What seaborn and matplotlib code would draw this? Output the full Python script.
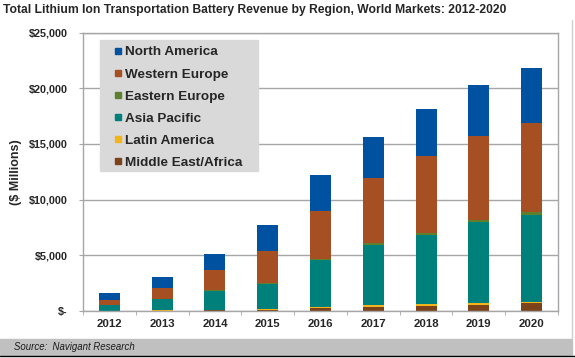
import pandas as pd
import numpy as np
import matplotlib
matplotlib.use("Agg")
import matplotlib.pyplot as plt
import seaborn as sns
from matplotlib.lines import Line2D
from matplotlib.ticker import FuncFormatter

# revenue, $ millions
years = ["2012", "2013", "2014", "2015", "2016", "2017", "2018", "2019", "2020"]
middle_east_africa = [20, 40, 80, 120, 250, 395, 448, 538, 690]
latin_america = [10, 20, 40, 70, 100, 116, 150, 180, 153]
asia_pacific = [480, 1000, 1700, 2250, 4200, 5409, 6190, 7238, 7740]
eastern_europe = [20, 30, 40, 60, 120, 180, 206, 242, 332]
western_europe = [450, 990, 1820, 2870, 4270, 5865, 6905, 7534, 7946]
north_america = [600, 960, 1460, 2360, 3300, 3641, 4216, 4574, 4969]

regions = ["Middle East/Africa", "Latin America", "Asia Pacific",
           "Eastern Europe", "Western Europe", "North America"]
colors = {
    "North America": "#0052A0",
    "Western Europe": "#A64F22",
    "Eastern Europe": "#5E7F2E",
    "Asia Pacific": "#00807A",
    "Latin America": "#F2B41C",
    "Middle East/Africa": "#7C4219",
}

df = pd.DataFrame({
    "year": years,
    "Middle East/Africa": middle_east_africa,
    "Latin America": latin_america,
    "Asia Pacific": asia_pacific,
    "Eastern Europe": eastern_europe,
    "Western Europe": western_europe,
    "North America": north_america,
})
cum = df[regions].cumsum(axis=1)
cum["year"] = df["year"]

sns.set_style("white")
plt.rcParams["font.family"] = ["Liberation Sans", "DejaVu Sans"]
plt.rcParams["font.weight"] = "bold"

W, H = 575, 358
fig = plt.figure(figsize=(W / 100, H / 100), dpi=100)
ax = fig.add_axes([83 / W, 1 - 311 / H, 475 / W, 278.5 / H])

# stacked bars: draw the cumulative totals from the top layer down
for reg in reversed(regions):
    sns.barplot(data=cum, x="year", y=reg, color=colors[reg], width=0.4,
                saturation=1, ax=ax, linewidth=0)

ax.set_ylim(0, 25000)
ax.set_xlim(-0.5, len(years) - 0.5)
ax.set_yticks(range(0, 25001, 5000))
ax.yaxis.set_major_formatter(FuncFormatter(lambda v, p: "$-" if v == 0 else f"${v:,.0f}"))
ax.set_axisbelow(True)
ax.yaxis.grid(True, color="#A6A6A6", linewidth=1)
ax.set_xlabel("")
ax.set_ylabel("($ Millions)", fontsize=9, fontweight="bold", labelpad=5)
for s in ax.spines.values():
    s.set_color("#A6A6A6")
    s.set_linewidth(1)
ax.tick_params(axis="y", length=3, color="#A6A6A6", labelsize=7.8, pad=8, left=True)
ax.tick_params(axis="x", length=0, labelsize=8.2, pad=6)
ax.set_xticks(np.arange(-0.5, len(years), 1), minor=True)
ax.tick_params(axis="x", which="minor", length=3, color="#A6A6A6", bottom=True)
for lab in ax.get_xticklabels() + ax.get_yticklabels():
    lab.set_fontweight("bold")

# legend box drawn separately so the padding matches
fig.patches.append(plt.Rectangle((100 / W, 1 - 171 / H), 158 / W, 131 / H,
                                 transform=fig.transFigure, color="#D9D9D9", zorder=3))
handles = [Line2D([], [], marker="s", linestyle="none", markersize=5,
                  color=colors[r]) for r in reversed(regions)]
leg = fig.legend(handles, list(reversed(regions)), loc="upper left",
                 bbox_to_anchor=(114 / W, 1 - 46 / H), borderaxespad=0, frameon=False,
                 handlelength=0.6, handletextpad=0.25, labelspacing=0.72, borderpad=0,
                 prop={"size": 9.7, "weight": "bold"})
leg.set_zorder(4)

fig.text(3 / W, 1 - 10 / H, "Total Lithium Ion Transportation Battery Revenue by Region, World Markets: 2012-2020",
         fontsize=8.7, fontweight="bold", va="center", ha="left")

# source band and frame lines
fig.patches.append(plt.Rectangle((0, 1 - 355 / H), 572 / W, 16 / H,
                                 transform=fig.transFigure, color="#C0C0C0", zorder=0))
fig.add_artist(Line2D([0, 1], [1 - 355.5 / H] * 2, color="black", linewidth=1,
                      transform=fig.transFigure))
fig.add_artist(Line2D([572 / W] * 2, [1 - 339 / H, 1 - 20 / H], color="#D0D0D0",
                      linewidth=1, transform=fig.transFigure))
fig.text(14 / W, 1 - 347 / H, "Source:  Navigant Research", fontsize=6.9,
         fontstyle="italic", fontweight="normal", va="center", ha="left", color="#1A1A1A")

fig.savefig("out.png", dpi=100)
